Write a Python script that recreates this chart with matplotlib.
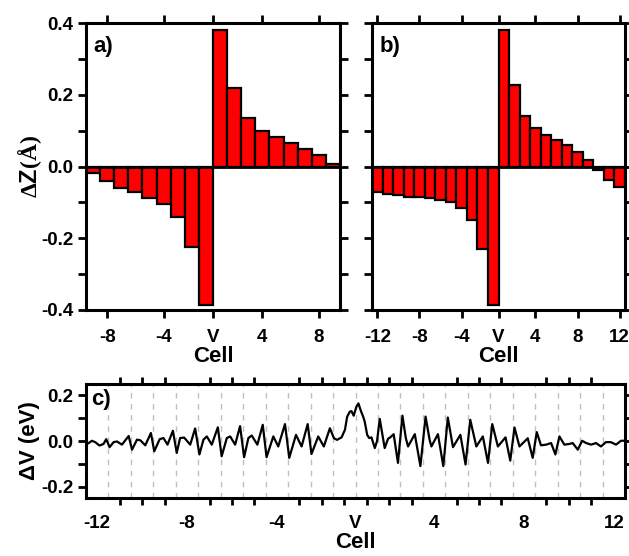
import matplotlib
matplotlib.use("Agg")
import matplotlib.pyplot as plt
from matplotlib.ticker import FixedLocator, NullFormatter

plt.rcParams['font.family'] = ['Liberation Sans', 'DejaVu Sans']
plt.rcParams['font.weight'] = 'bold'
plt.rcParams['mathtext.fontset'] = 'custom'
plt.rcParams['mathtext.rm'] = 'Liberation Serif'
plt.rcParams['mathtext.it'] = 'Liberation Serif'
plt.rcParams['mathtext.bf'] = 'Liberation Sans:bold'

# ---- panel a: displacement per cell (short chain) ----
cells_a = [-9, -8, -7, -6, -5, -4, -3, -2, -1, 1, 2, 3, 4, 5, 6, 7, 8, 9]
dz_a = [-0.017, -0.041, -0.060, -0.072, -0.087, -0.104, -0.140, -0.223, -0.385,
        0.381, 0.219, 0.136, 0.098, 0.082, 0.066, 0.050, 0.031, 0.007]

# ---- panel b: displacement per cell (long chain) ----
cells_b = [-12, -11, -10, -9, -8, -7, -6, -5, -4, -3, -2, -1,
           1, 2, 3, 4, 5, 6, 7, 8, 9, 10, 11, 12]
dz_b = [-0.070, -0.076, -0.080, -0.084, -0.086, -0.088, -0.093, -0.100, -0.115, -0.148, -0.230, -0.385,
        0.381, 0.226, 0.142, 0.107, 0.087, 0.073, 0.060, 0.040, 0.017, -0.011, -0.037, -0.058]

# ---- panel c: potential change along the chain (x in cell units, V at 0) ----
pot_x = [-12.00, -11.88, -11.74, -11.59, -11.40, -11.22, -11.10, -10.95, -10.77, -10.62,
         -10.40, -10.10, -9.95, -9.73, -9.58, -9.36, -9.11, -8.96, -8.72, -8.55,
         -8.37, -8.13, -7.96, -7.81, -7.63, -7.36, -7.14, -6.95, -6.77, -6.62,
         -6.40, -6.13, -5.96, -5.73, -5.58, -5.36, -5.14, -4.96, -4.77, -4.62,
         -4.37, -4.13, -3.96, -3.66, -3.44, -3.14, -2.95, -2.65, -2.40, -2.13,
         -1.96, -1.66, -1.41, -1.14, -0.96, -0.82, -0.62, -0.47, -0.37, -0.25,
         -0.18, -0.08, 0.04, 0.13, 0.24, 0.34, 0.41, 0.52, 0.61, 0.71,
         0.86, 0.96, 1.08, 1.20, 1.30, 1.45, 1.55, 1.70, 1.89, 2.09,
         2.24, 2.34, 2.64, 2.89, 3.12, 3.30, 3.38, 3.67, 3.91, 4.11,
         4.34, 4.67, 4.90, 5.11, 5.38, 5.67, 5.90, 6.09, 6.34, 6.68,
         6.89, 7.08, 7.30, 7.67, 7.89, 8.07, 8.26, 8.49, 8.71, 8.90,
         9.08, 9.30, 9.52, 9.67, 9.90, 10.09, 10.27, 10.49, 10.71, 10.93,
         11.15, 11.37, 11.60, 11.82, 12.00]
pot_v = [-0.016, -0.009, 0.001, -0.005, -0.020, -0.013, 0.008, -0.027, -0.005, -0.002,
         -0.016, 0.022, -0.038, 0.006, 0.003, -0.019, 0.035, -0.045, 0.008, 0.013,
         -0.016, 0.045, -0.052, 0.013, 0.015, -0.016, 0.055, -0.059, 0.006, 0.020,
         -0.016, 0.060, -0.067, 0.013, 0.020, -0.016, 0.065, -0.071, 0.013, 0.024,
         -0.016, 0.071, -0.071, 0.020, -0.024, 0.074, -0.074, 0.027, -0.024, 0.074,
         -0.057, 0.020, -0.024, 0.056, 0.012, 0.005, 0.016, 0.049, 0.107, 0.129,
         0.131, 0.111, 0.150, 0.165, 0.132, 0.107, 0.085, 0.027, 0.013, 0.016,
         -0.031, 0.000, 0.097, 0.027, -0.031, 0.010, 0.016, 0.030, -0.096, 0.111,
         0.013, -0.024, 0.030, -0.110, 0.107, 0.005, -0.024, 0.030, -0.110, 0.103,
         -0.027, 0.027, -0.103, 0.093, -0.024, 0.020, -0.096, 0.074, -0.024, 0.016,
         -0.086, 0.059, -0.024, 0.012, -0.074, 0.039, -0.019, -0.016, -0.009, -0.059,
         0.020, -0.016, -0.013, -0.009, -0.038, 0.001, -0.009, -0.016, -0.009, -0.024,
         -0.005, -0.005, -0.016, 0.001, 0.001]

tick_cells_a = [-8, -4, 0, 4, 8]
tick_cells_b = [-12, -8, -4, 0, 4, 8, 12]
tick_cells_c = [-12, -8, -4, 0, 4, 8, 12]


def cell_pos(c):
    """Centre of a cell on the axis; the vacancy V sits at 0."""
    if c == 0:
        return 0.0
    return c - 0.5 if c > 0 else c + 0.5


def cell_label(c):
    return 'V' if c == 0 else str(c)


RED = '#ff0000'
TICKFS = 13.5
LABFS = 16

fig = plt.figure(figsize=(6.29, 5.56), dpi=100)
ax_a = fig.add_axes([86 / 629, 1 - 310 / 556, 254 / 629, 287 / 556])
ax_b = fig.add_axes([372 / 629, 1 - 310 / 556, 253 / 629, 287 / 556])
ax_c = fig.add_axes([86 / 629, 1 - 498 / 556, 539 / 629, 114 / 556])


def style_bar_axes(ax, cells, dz, half, tick_cells, show_ylabels):
    ax.bar([cell_pos(c) for c in cells], dz, width=1.0, color=RED,
           edgecolor='black', linewidth=1.6, zorder=2)
    ax.axhline(0, color='black', lw=2.0, zorder=3)
    ax.set_xlim(-half, half)
    ax.set_ylim(-0.4, 0.4)
    ax.xaxis.set_major_locator(FixedLocator([cell_pos(c) for c in tick_cells]))
    ax.set_xticklabels([cell_label(c) for c in tick_cells])
    ax.yaxis.set_major_locator(FixedLocator([-0.4, -0.2, 0.0, 0.2, 0.4]))
    ax.yaxis.set_minor_locator(FixedLocator([-0.3, -0.1, 0.1, 0.3]))
    ax.yaxis.set_minor_formatter(NullFormatter())
    if show_ylabels:
        ax.set_yticklabels(['-0.4', '-0.2', '0.0', '0.2', '0.4'])
    else:
        ax.yaxis.set_major_formatter(NullFormatter())
    ax.tick_params(axis='both', which='both', direction='out', length=6, width=2,
                   top=True, right=True, labelsize=TICKFS)
    ax.tick_params(axis='x', pad=8)
    ax.tick_params(axis='y', pad=3)
    for s in ax.spines.values():
        s.set_linewidth(2.2)
    ax.set_xlabel('Cell', fontsize=LABFS, fontweight='bold', labelpad=0)


style_bar_axes(ax_a, cells_a, dz_a, 9, tick_cells_a, True)
style_bar_axes(ax_b, cells_b, dz_b, 12, tick_cells_b, False)

ax_a.set_ylabel(r'$\Delta\mathbf{Z}\mathrm{(\AA)}$', fontsize=17, labelpad=-2)
ax_a.text(0.03, 0.955, 'a)', transform=ax_a.transAxes, fontsize=16,
          fontweight='bold', va='top', ha='left')
ax_b.text(0.03, 0.955, 'b)', transform=ax_b.transAxes, fontsize=16,
          fontweight='bold', va='top', ha='left')

# ---- panel c ----
for k in range(-11, 12):
    ax_c.axvline(k, color='#c0c0c0', lw=1.0, ls=(0, (4, 4)), zorder=0)
ax_c.plot(pot_x, pot_v, color='black', lw=1.6, zorder=2,
          solid_joinstyle='round')
ax_c.set_xlim(-12, 12)
ax_c.set_ylim(-0.25, 0.25)
ax_c.xaxis.set_major_locator(FixedLocator([cell_pos(c) for c in tick_cells_c]))
ax_c.set_xticklabels([cell_label(c) for c in tick_cells_c])
ax_c.xaxis.set_minor_locator(FixedLocator([k + 0.5 for k in range(-12, 12)]))
ax_c.yaxis.set_major_locator(FixedLocator([-0.2, 0.0, 0.2]))
ax_c.yaxis.set_minor_locator(FixedLocator([-0.1, 0.1]))
ax_c.set_yticklabels(['-0.2', '0.0', '0.2'])
ax_c.tick_params(axis='x', which='major', length=0, pad=12.5, labelsize=TICKFS,
                 top=True)
ax_c.tick_params(axis='x', which='minor', direction='out', length=5, width=2,
                 top=True)
ax_c.tick_params(axis='y', which='both', direction='out', length=6, width=2,
                 right=True, labelsize=TICKFS, pad=3)
for s in ax_c.spines.values():
    s.set_linewidth(2.2)
ax_c.set_xlabel('Cell', fontsize=LABFS, fontweight='bold', labelpad=0)
ax_c.set_ylabel('ΔV (eV)', fontsize=LABFS, fontweight='bold', labelpad=1)
ax_c.text(0.01, 0.96, 'c)', transform=ax_c.transAxes, fontsize=16,
          fontweight='bold', va='top', ha='left')

fig.savefig('out.png', dpi=100)
